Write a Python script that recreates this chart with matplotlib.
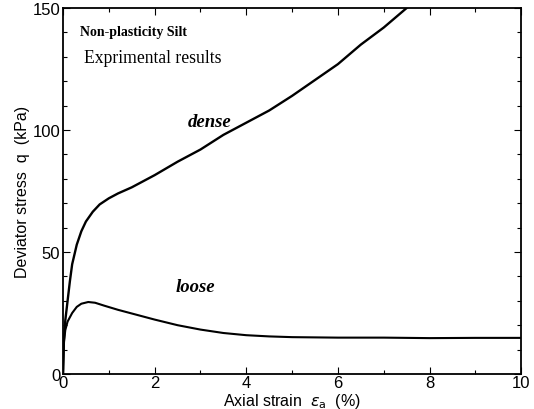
import matplotlib
matplotlib.use("Agg")
import matplotlib.pyplot as plt
from matplotlib.ticker import MultipleLocator

# Data
dense_strain = [0, 0.02, 0.05, 0.1, 0.15, 0.2, 0.3, 0.4, 0.5, 0.65, 0.8, 1.0, 1.2, 1.5, 1.8,
                2.0, 2.5, 3.0, 3.5, 4.0, 4.5, 5.0, 5.5, 6.0, 6.5, 7.0, 7.5, 7.8]
dense_q = [0, 14, 22, 30, 38, 45, 53, 58.5, 62.5, 66.5, 69.5, 72, 74, 76.5, 79.5,
           81.5, 87, 92, 98, 103, 108, 114, 120.5, 127, 135, 142, 150, 154]

loose_strain = [0, 0.02, 0.05, 0.1, 0.2, 0.3, 0.4, 0.55, 0.7, 0.9, 1.2, 1.5, 2.0, 2.5,
                3.0, 3.5, 4.0, 4.5, 5.0, 6.0, 7.0, 8.0, 9.0, 10.0]
loose_q = [0, 13, 18, 21.5, 25, 27.5, 28.8, 29.5, 29.2, 28, 26.3, 24.8, 22.3, 20,
           18.2, 16.8, 15.9, 15.4, 15.1, 14.9, 14.9, 14.7, 14.8, 14.8]

x_ticks = [0, 2, 4, 6, 8, 10]
y_ticks = [0, 50, 100, 150]

fig = plt.figure(figsize=(5.34, 4.10), dpi=100)
ax = fig.add_axes([0.118, 0.0854, 0.858, 0.8926])

ax.plot(dense_strain, dense_q, color="black", lw=1.7)
ax.plot(loose_strain, loose_q, color="black", lw=1.5)

ax.set_xlim(0, 10)
ax.set_ylim(0, 150)
ax.set_xticks(x_ticks)
ax.set_yticks(y_ticks)
ax.xaxis.set_minor_locator(MultipleLocator(1))
ax.yaxis.set_minor_locator(MultipleLocator(10))
ax.tick_params(which="both", direction="in", top=True, right=True, width=0.8)
ax.tick_params(which="major", length=5, labelsize=12)
ax.tick_params(axis="x", which="major", pad=1)
ax.tick_params(axis="y", which="major", pad=2)
ax.tick_params(which="minor", length=3)
for lbl in ax.get_xticklabels() + ax.get_yticklabels():
    lbl.set_family("Liberation Sans")
for s in ax.spines.values():
    s.set_linewidth(1.3)

ax.set_xlabel(r"Axial strain  $\varepsilon_{\rm a}$  (%)", fontsize=11.5,
              family="Liberation Sans", labelpad=0.5)
ax.set_ylabel("Deviator stress  q  (kPa)", fontsize=11.5,
              family="Liberation Sans", labelpad=2)

ax.text(0.038, 0.935, "Non-plasticity Silt", transform=ax.transAxes,
        family="Liberation Serif", fontweight="bold", fontsize=10, va="center")
ax.text(0.045, 0.865, "Exprimental results", transform=ax.transAxes,
        family="Liberation Serif", fontsize=12.7, va="center")
ax.text(3.2, 103.5, "dense", family="Liberation Serif", fontweight="bold",
        style="italic", fontsize=13.5, ha="center", va="center")
ax.text(2.88, 36, "loose", family="Liberation Serif", fontweight="bold",
        style="italic", fontsize=13.5, ha="center", va="center")

fig.savefig("out.png", dpi=100)
